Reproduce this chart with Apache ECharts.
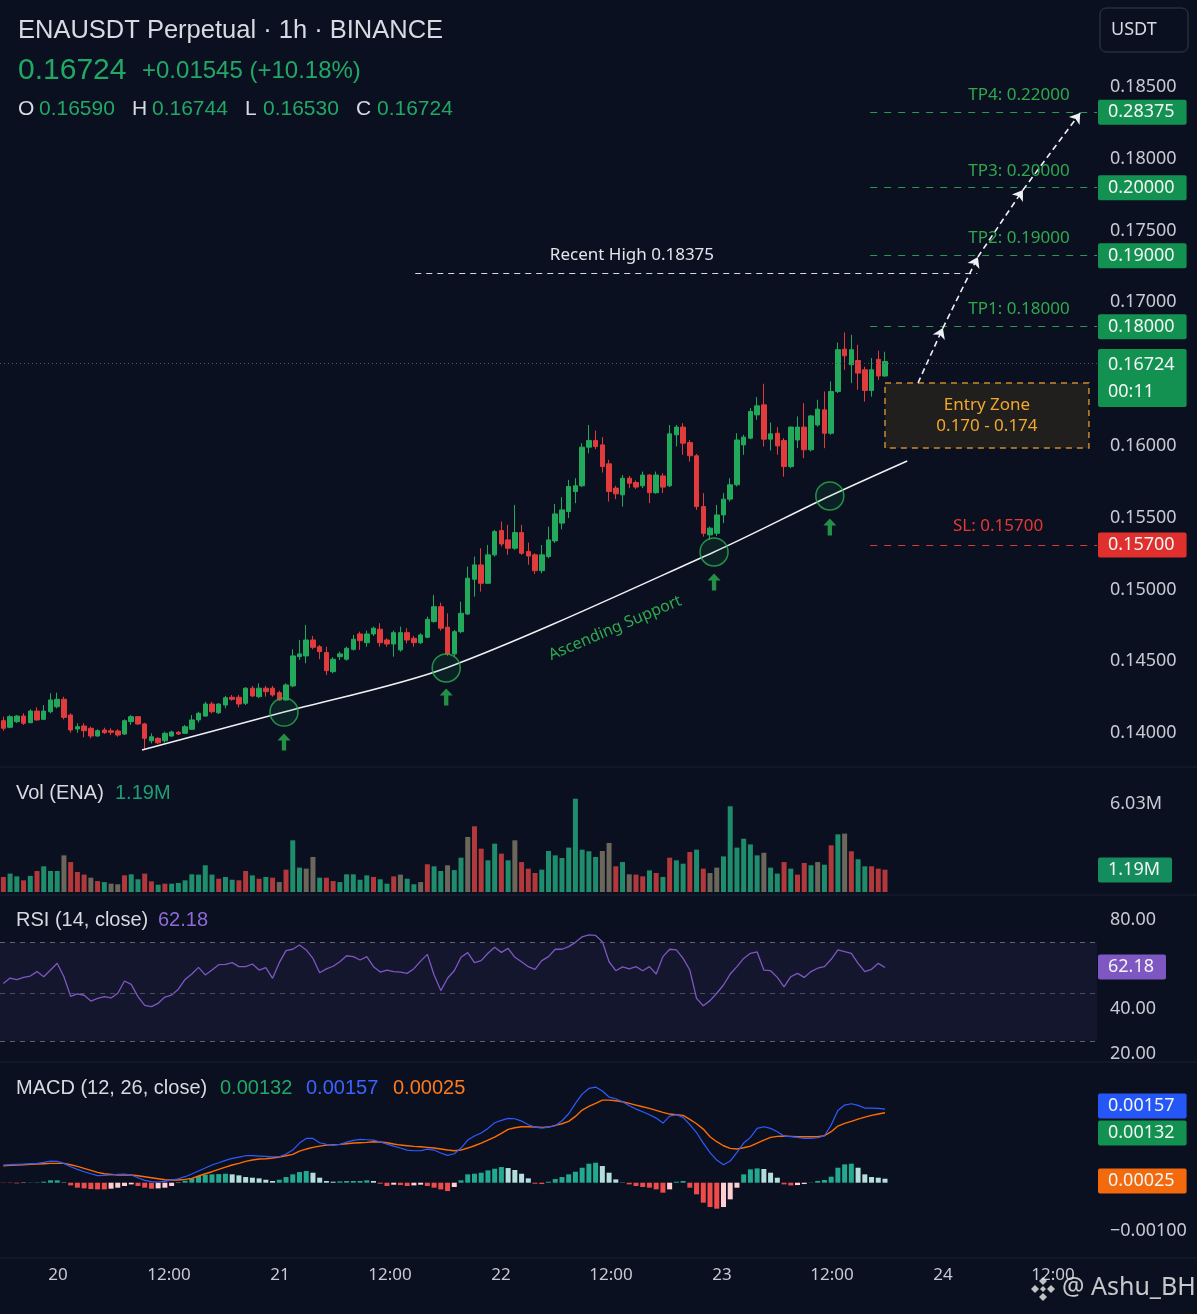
<!DOCTYPE html>
<html><head><meta charset="utf-8">
<script src="https://cdn.jsdelivr.net/npm/echarts@6/dist/echarts.min.js"></script>
<style>html,body{margin:0;padding:0;background:#0a1020;}#chart{width:1197px;height:1314px;}</style>
</head><body><div id="chart"></div>
<script>
// ---- candles: [open, high, low, close] ----
const ohlc = [
[0.14086,0.14114,0.14016,0.14033],[0.14040,0.14125,0.14033,0.14114],[0.14079,0.14125,0.14070,0.14118],[0.14118,0.14137,0.14056,0.14068],
[0.14072,0.14165,0.14068,0.14153],[0.14153,0.14179,0.14086,0.14091],[0.14095,0.14195,0.14091,0.14153],[0.14148,0.14277,0.14137,0.14230],
[0.14183,0.14281,0.14172,0.14235],[0.14235,0.14253,0.14095,0.14109],[0.14125,0.14137,0.14002,0.14021],[0.14028,0.14068,0.14002,0.14044],
[0.14049,0.14068,0.13970,0.14016],[0.14033,0.14044,0.13963,0.13979],[0.13979,0.14026,0.13974,0.14016],[0.14021,0.14037,0.13993,0.14002],
[0.14016,0.14033,0.13986,0.14005],[0.14014,0.14026,0.13974,0.13986],[0.13993,0.14095,0.13986,0.14086],[0.14079,0.14125,0.14056,0.14114],
[0.14114,0.14118,0.14056,0.14063],[0.14063,0.14072,0.13886,0.13963],[0.13946,0.13998,0.13928,0.13974],[0.13963,0.13970,0.13923,0.13932],
[0.13946,0.14009,0.13932,0.13998],[0.13979,0.14016,0.13974,0.14007],[0.14005,0.14014,0.13986,0.13993],[0.13998,0.14056,0.13993,0.14044],
[0.14026,0.14125,0.14021,0.14091],[0.14091,0.14148,0.14072,0.14137],[0.14118,0.14218,0.14114,0.14202],[0.14202,0.14218,0.14137,0.14148],
[0.14141,0.14207,0.14132,0.14202],[0.14195,0.14258,0.14172,0.14246],[0.14249,0.14265,0.14225,0.14235],[0.14249,0.14265,0.14179,0.14202],
[0.14207,0.14319,0.14195,0.14312],[0.14312,0.14328,0.14249,0.14258],[0.14253,0.14346,0.14242,0.14312],[0.14312,0.14328,0.14253,0.14288],
[0.14312,0.14328,0.14253,0.14265],[0.14281,0.14295,0.14225,0.14230],[0.14230,0.14346,0.14225,0.14335],[0.14328,0.14583,0.14319,0.14537],
[0.14532,0.14648,0.14509,0.14551],[0.14537,0.14753,0.14486,0.14648],[0.14648,0.14676,0.14583,0.14597],[0.14601,0.14613,0.14514,0.14567],
[0.14560,0.14601,0.14404,0.14434],[0.14427,0.14528,0.14416,0.14514],[0.14532,0.14567,0.14509,0.14551],[0.14514,0.14601,0.14504,0.14590],
[0.14583,0.14683,0.14574,0.14653],[0.14690,0.14706,0.14579,0.14643],[0.14629,0.14713,0.14601,0.14690],[0.14690,0.14741,0.14676,0.14730],
[0.14723,0.14765,0.14601,0.14629],[0.14648,0.14660,0.14601,0.14620],[0.14620,0.14713,0.14532,0.14699],[0.14579,0.14741,0.14567,0.14699],
[0.14699,0.14730,0.14625,0.14648],[0.14660,0.14676,0.14601,0.14629],[0.14629,0.14695,0.14620,0.14683],[0.14667,0.14811,0.14660,0.14792],
[0.14776,0.14962,0.14769,0.14880],[0.14880,0.14908,0.14713,0.14730],[0.14737,0.14834,0.14537,0.14551],[0.14551,0.14718,0.14532,0.14706],
[0.14706,0.14915,0.14695,0.14834],[0.14829,0.15159,0.14822,0.15078],[0.15071,0.15229,0.14950,0.15171],[0.15171,0.15287,0.14985,0.15043],
[0.15043,0.15310,0.15039,0.15241],[0.15241,0.15415,0.15229,0.15403],[0.15410,0.15473,0.15299,0.15317],[0.15345,0.15450,0.15241,0.15287],
[0.15287,0.15589,0.15276,0.15396],[0.15396,0.15450,0.15241,0.15252],[0.15264,0.15326,0.15171,0.15233],[0.15241,0.15252,0.15108,0.15131],
[0.15131,0.15310,0.15113,0.15241],[0.15229,0.15437,0.15217,0.15345],[0.15338,0.15596,0.15324,0.15526],[0.15462,0.15643,0.15419,0.15554],
[0.15543,0.15763,0.15497,0.15717],[0.15682,0.15775,0.15601,0.15722],[0.15722,0.16019,0.15713,0.15991],[0.15991,0.16146,0.15949,0.16037],
[0.16037,0.16107,0.15978,0.15996],[0.16007,0.16061,0.15814,0.15856],[0.15875,0.15903,0.15612,0.15682],[0.15706,0.15722,0.15629,0.15666],
[0.15659,0.15797,0.15577,0.15775],[0.15775,0.15791,0.15706,0.15740],[0.15745,0.15760,0.15700,0.15713],[0.15722,0.15821,0.15706,0.15797],
[0.15797,0.15804,0.15601,0.15674],[0.15674,0.15821,0.15666,0.15797],[0.15791,0.15810,0.15671,0.15713],[0.15722,0.16146,0.15713,0.16084],
[0.16077,0.16146,0.15996,0.16131],[0.16131,0.16158,0.15938,0.16019],[0.16023,0.16041,0.15891,0.15931],[0.15931,0.15944,0.15554,0.15577],
[0.15577,0.15671,0.15368,0.15391],[0.15380,0.15438,0.15345,0.15427],[0.15391,0.15589,0.15373,0.15519],[0.15519,0.15671,0.15462,0.15629],
[0.15629,0.15775,0.15612,0.15729],[0.15729,0.16088,0.15717,0.16041],[0.16007,0.16077,0.15938,0.16061],[0.16054,0.16263,0.16047,0.16240],
[0.16216,0.16340,0.16182,0.16279],[0.16286,0.16433,0.15996,0.16047],[0.16047,0.16163,0.15968,0.16084],[0.16088,0.16131,0.15938,0.16000],
[0.16037,0.16054,0.15786,0.15856],[0.15856,0.16135,0.15845,0.16131],[0.16041,0.16205,0.15984,0.16131],[0.16131,0.16298,0.15915,0.15973],
[0.15973,0.16216,0.15961,0.16209],[0.16146,0.16321,0.16135,0.16256],[0.16251,0.16379,0.15984,0.16088],[0.16088,0.16449,0.16077,0.16379],
[0.16379,0.16720,0.16368,0.16670],[0.16674,0.16790,0.16530,0.16628],[0.16565,0.16774,0.16437,0.16670],[0.16595,0.16704,0.16391,0.16507],
[0.16530,0.16552,0.16308,0.16386],[0.16386,0.16612,0.16343,0.16530],[0.16603,0.16663,0.16459,0.16487],[0.16487,0.16656,0.16482,0.16588]
];
// ---- volume (millions) and bar side: g = up, r = down, n = neutral ----
const volumes = [
1.03,1.26,1.07,0.80,1.10,1.44,1.76,1.44,1.44,2.51,2.05,1.37,1.19,0.98,0.75,0.68,0.57,0.53,1.14,1.21,
0.87,1.26,0.73,0.50,0.57,0.57,0.62,0.80,1.21,1.19,1.83,1.19,0.91,1.03,0.84,0.80,1.44,1.14,0.91,1.03,
0.98,0.68,1.53,3.54,1.67,1.60,2.40,0.98,0.98,0.75,0.68,1.21,1.21,0.84,1.14,1.03,0.87,0.57,1.07,1.19,
0.91,0.53,0.68,1.90,1.76,1.44,1.83,1.50,2.35,3.77,4.50,2.97,2.17,3.31,2.63,2.17,3.54,2.05,1.60,1.30,
1.53,2.81,2.51,2.33,3.04,6.39,2.90,2.79,2.40,2.81,3.36,1.76,2.05,1.21,1.19,1.07,1.48,1.30,1.03,2.35,
2.17,1.94,2.74,2.90,1.60,1.30,1.67,2.44,5.87,3.04,3.65,3.26,2.51,2.69,1.67,1.26,2.05,1.60,1.19,1.99,
1.83,2.05,1.87,3.20,3.95,4.00,2.79,2.24,1.76,1.76,1.60,1.53];
const volumeSide = "rggrgrgggnrrrnrgnnrggrrgrgggggggrggrrgrgrnrggnngrrgggggrggrnggnrggnggnrrggrgnrrrgggggggggnnrgnrrgrgrggrgrnnggggggnggrgrrgngrgnrggrrrrgrg";
// ---- RSI (14) ----
const rsi = [
51.6,54.0,53.3,54.3,54.9,56.9,54.6,57.6,60.6,54.6,45.8,46.9,46.3,43.7,44.9,45.7,45.1,47.2,52.7,51.2,
45.7,41.8,41.2,42.7,45.5,46.4,49.0,53.4,55.8,58.8,55.4,57.6,60.0,60.1,60.9,59.1,59.1,60.3,57.6,58.7,
53.9,60.9,66.3,66.9,68.8,66.6,62.8,56.4,58.1,59.3,61.3,64.0,63.6,62.1,63.6,59.1,56.7,57.6,56.9,56.7,
56.1,58.2,61.6,64.6,55.4,48.4,53.9,57.3,63.3,65.4,60.9,61.8,65.1,67.8,65.5,67.3,63.3,61.3,59.1,57.9,
61.8,63.6,66.9,66.9,68.1,70.0,72.5,73.3,73.1,70.3,61.3,57.3,59.0,58.1,59.1,57.3,59.1,55.8,63.6,66.9,
66.6,62.8,57.6,44.9,41.6,43.9,47.2,50.9,55.8,59.1,62.8,65.1,65.7,57.6,57.3,54.3,50.1,54.6,56.1,54.3,
56.9,58.4,59.1,62.4,66.6,65.8,65.1,60.6,56.9,57.9,60.6,58.7];
// ---- MACD (12, 26) ----
const macdLine = [
0.000368,0.000375,0.000382,0.000389,0.000396,0.000403,0.000423,0.000451,0.000444,0.000403,
0.000333,0.000278,0.000229,0.000187,0.000146,0.000153,0.000160,0.000174,0.000180,0.000160,
0.000104,0.000049,0.000021,0.000014,0.000028,0.000056,0.000083,0.000125,0.000180,0.000243,
0.000305,0.000368,0.000416,0.000465,0.000507,0.000534,0.000562,0.000562,0.000555,0.000548,
0.000541,0.000541,0.000597,0.000680,0.000826,0.000923,0.000923,0.000833,0.000798,0.000784,
0.000798,0.000847,0.000881,0.000902,0.000895,0.000888,0.000847,0.000805,0.000763,0.000722,
0.000680,0.000666,0.000666,0.000701,0.000680,0.000618,0.000569,0.000604,0.000722,0.000888,
0.000972,0.001034,0.001131,0.001249,0.001298,0.001339,0.001332,0.001284,0.001208,0.001159,
0.001138,0.001159,0.001187,0.001291,0.001437,0.001652,0.001846,0.001964,0.001992,0.001909,
0.001784,0.001749,0.001686,0.001603,0.001534,0.001478,0.001416,0.001346,0.001242,0.001388,
0.001416,0.001360,0.001208,0.001041,0.000826,0.000625,0.000472,0.000375,0.000451,0.000632,
0.000826,0.000944,0.001131,0.001166,0.001131,0.001062,0.000972,0.000958,0.000944,0.000923,
0.000923,0.000937,0.000979,0.001201,0.001506,0.001617,0.001645,0.001610,0.001555,0.001555,
0.001548,0.001534];
const signalLine = [
0.000354,0.000361,0.000368,0.000375,0.000382,0.000389,0.000396,0.000403,0.000403,0.000403,
0.000375,0.000340,0.000298,0.000257,0.000215,0.000187,0.000174,0.000160,0.000160,0.000160,
0.000146,0.000125,0.000104,0.000083,0.000062,0.000056,0.000056,0.000069,0.000090,0.000139,
0.000187,0.000229,0.000278,0.000326,0.000368,0.000403,0.000444,0.000472,0.000493,0.000500,
0.000514,0.000534,0.000562,0.000590,0.000659,0.000701,0.000736,0.000763,0.000784,0.000791,
0.000798,0.000812,0.000826,0.000833,0.000840,0.000854,0.000847,0.000833,0.000805,0.000784,
0.000770,0.000756,0.000750,0.000736,0.000722,0.000701,0.000680,0.000666,0.000680,0.000722,
0.000770,0.000826,0.000888,0.000951,0.001027,0.001110,0.001145,0.001166,0.001166,0.001159,
0.001152,0.001159,0.001194,0.001228,0.001277,0.001381,0.001513,0.001589,0.001652,0.001721,
0.001721,0.001707,0.001686,0.001652,0.001617,0.001582,0.001548,0.001506,0.001464,0.001430,
0.001416,0.001402,0.001319,0.001228,0.001117,0.000958,0.000854,0.000770,0.000715,0.000701,
0.000729,0.000763,0.000826,0.000888,0.000944,0.000965,0.000972,0.000965,0.000958,0.000958,
0.000958,0.000958,0.000979,0.001062,0.001180,0.001235,0.001277,0.001325,0.001367,0.001402,
0.001430,0.001457];
const macdHist = [
-0.000005,-0.000007,-0.000014,-0.000007,0.000005,0.000007,0.000021,0.000049,0.000049,0.000007,
-0.000056,-0.000104,-0.000118,-0.000132,-0.000139,-0.000139,-0.000125,-0.000104,-0.000069,-0.000035,
-0.000069,-0.000104,-0.000125,-0.000118,-0.000104,-0.000069,-0.000007,0.000042,0.000090,0.000139,
0.000167,0.000174,0.000180,0.000187,0.000174,0.000153,0.000118,0.000104,0.000090,0.000062,
0.000035,0.000062,0.000118,0.000174,0.000222,0.000243,0.000208,0.000104,0.000035,0.000021,
0.000028,0.000035,0.000035,0.000035,0.000049,0.000035,-0.000021,-0.000069,-0.000042,-0.000049,
-0.000069,-0.000056,-0.000042,-0.000069,-0.000104,-0.000139,-0.000174,-0.000090,0.000049,0.000174,
0.000187,0.000208,0.000257,0.000291,0.000326,0.000305,0.000264,0.000187,0.000090,-0.000021,
-0.000028,0.000021,0.000076,0.000118,0.000174,0.000229,0.000312,0.000396,0.000416,0.000347,
0.000208,0.000069,0.000005,-0.000035,-0.000069,-0.000090,-0.000104,-0.000139,-0.000208,-0.000139,
0.000021,0.000035,-0.000104,-0.000243,-0.000416,-0.000507,-0.000541,-0.000507,-0.000347,-0.000104,
0.000174,0.000278,0.000298,0.000285,0.000208,0.000104,-0.000035,-0.000056,-0.000049,-0.000028,
0.000005,0.000035,0.000056,0.000125,0.000312,0.000382,0.000396,0.000312,0.000174,0.000118,
0.000104,0.000083];
// ---- axis ticks ----
const timeTickPos = [8.12, 24.61, 41.1, 57.45, 73.94, 90.29, 106.78, 123.13, 139.62, 155.97];
const timeTickLabels = ['20','12:00','21','12:00','22','12:00','23','12:00','24','12:00'];
const priceTicks = [0.14, 0.145, 0.15, 0.155, 0.16, 0.17, 0.175, 0.18, 0.185];
const volumeTicks = [6.03];
const rsiTicks = [20, 40, 80];
const macdTicks = [-0.001];
// ---- annotations (in axis units) ----
const tpLevels = [0.18324, 0.17799, 0.17325, 0.16830];
const tpBadges = ['0.28375', '0.20000', '0.19000', '0.18000'];
const tpTexts = ['TP4: 0.22000', 'TP3: 0.20000', 'TP2: 0.19000', 'TP1: 0.18000'];
const tpTextLevels = [0.18444, 0.17917, 0.17446, 0.16954];
const slLevel = 0.15310;
const recentHigh = 0.17202;
const lastPriceLevel = 0.16575;
const lastPriceBadgeLevel = 0.16473;
const entryZone = [[131.0, 0.16438], [161.3, 0.15985]];
const supportLine = [[20.6,0.13882],[41.7,0.14146],[65.8,0.14453],[105.6,0.15261],[122.8,0.15651],[134.3,0.15895]];
const supportTouches = [[41.7,0.14146],[65.8,0.14453],[105.6,0.15261],[122.8,0.15651]];
const supportArrows = [[41.7,0.13937],[65.8,0.14251],[105.6,0.15052],[122.8,0.15435]];
const pathArrows = [[135.9,0.16438],[139.6,0.16821],[144.8,0.17316],[151.5,0.17783],[160.0,0.18319]];

const X_MIN = -0.5, X_MAX = 162.5;
const GREEN = '#22a95c', RED = '#e13b3b';
const FONT = 'Noto Sans';
const AX = '#c6cad2';

const chart = echarts.init(document.getElementById('chart'), null, {renderer: 'canvas'});

const grids = [
  {left: 0, right: 100, top: 0, height: 767},
  {left: 0, right: 100, top: 770, height: 122},
  {left: 0, right: 100, top: 900, height: 162},
  {left: 0, right: 100, top: 1062, height: 196}
];
const xAxes = grids.map((g, k) => ({
  type: 'value', gridIndex: k, min: X_MIN, max: X_MAX, show: k === 3,
  axisLine: {show: false}, axisTick: {show: false}, splitLine: {show: false},
  axisLabel: {
    show: k === 3, customValues: timeTickPos, color: AX, fontSize: 17, fontFamily: FONT, margin: 9,
    formatter: v => { const i = timeTickPos.findIndex(p => Math.abs(p - v) < 1e-6); return i >= 0 ? timeTickLabels[i] : ''; }
  }
}));
const yBase = (k, min, max, ticks, fmt) => ({
  type: 'value', gridIndex: k, position: 'right', min, max, scale: true,
  axisLine: {show: false}, axisTick: {show: false}, splitLine: {show: false},
  axisLabel: {customValues: ticks, color: AX, fontSize: 18, fontFamily: FONT, margin: 13, formatter: fmt}
});
const yAxes = [
  yBase(0, 0.137632, 0.19106, priceTicks, v => v.toFixed(5)),
  yBase(1, 0, 8.356, volumeTicks, v => v.toFixed(2) + 'M'),
  yBase(2, 16.41, 88.96, rsiTicks, v => v.toFixed(2)),
  yBase(3, -0.0015688, 0.0025146, macdTicks, v => (v < 0 ? '\u2212' : '') + Math.abs(v).toFixed(5))
];

const badge = (text, bg) => ({
  show: true, position: 'end', distance: 1, formatter: text, color: '#f3f4f6',
  backgroundColor: bg, padding: [4, 12, 3, 10], borderRadius: 2, fontSize: 18, fontFamily: FONT
});
const hidden = {color: 'rgba(0,0,0,0)', width: 0};

const candleData = ohlc.map((d, i) => [i, d[0], d[3], d[2], d[1]]);
const volColor = {g: '#1f8c6c', r: '#b2393b', n: '#6b675b'};
const histData = macdHist.map((v, i) => {
  const prev = i > 0 ? macdHist[i - 1] : v;
  let c;
  if (v >= 0) c = v >= prev ? '#22a98f' : '#b2dfdb';
  else c = v <= prev ? '#ef4b4b' : '#ffcdd2';
  return {value: [i, v], itemStyle: {color: c}};
});

const option = {
  backgroundColor: '#0a1020',
  animation: false,
  grid: grids,
  xAxis: xAxes,
  yAxis: yAxes,
  series: [
    {
      type: 'candlestick', xAxisIndex: 0, yAxisIndex: 0, data: candleData, barWidth: 5,
      itemStyle: {color: GREEN, color0: RED, borderColor: GREEN, borderColor0: RED, borderWidth: 1},
      markLine: {
        silent: true, symbol: ['none', 'none'], animation: false, precision: 8,
        data: [
          ...tpLevels.map((v, k) => [
            {coord: [128.8, v], lineStyle: {color: '#279a4b', type: [7, 7], width: 1}, label: badge(tpBadges[k], '#139150')},
            {coord: [X_MAX, v]}
          ]),
          [{coord: [128.8, slLevel], lineStyle: {color: '#d63a3a', type: [7, 7], width: 1}, label: badge('0.15700', '#e0302d')},
           {coord: [X_MAX, slLevel]}],
          [{coord: [61.2, recentHigh], lineStyle: {color: '#d6d9df', type: [6, 5], width: 1.2}, label: {show: false}},
           {coord: [144.7, recentHigh]}],
          [{coord: [X_MIN, lastPriceLevel], lineStyle: {color: '#4f5665', type: [1, 3], width: 1}, label: {show: false}},
           {coord: [X_MAX, lastPriceLevel]}],
          [{coord: [X_MIN, lastPriceBadgeLevel], lineStyle: hidden,
            label: Object.assign(badge('0.16724\n00:11', '#139150'), {lineHeight: 27, padding: [2, 12, 2, 10]})},
           {coord: [X_MAX, lastPriceBadgeLevel]}]
        ]
      },
      markArea: {
        silent: true,
        itemStyle: {color: 'rgba(36,33,28,0.88)', borderColor: '#c98a2b', borderWidth: 1.5, borderType: [6, 5]},
        label: {show: true, position: 'inside', formatter: 'Entry Zone\n0.170 - 0.174', color: '#f2a72e', fontSize: 17, lineHeight: 21, fontFamily: FONT},
        data: [[{coord: entryZone[0]}, {coord: entryZone[1]}]]
      },
      markPoint: {
        silent: true, symbol: 'circle', symbolSize: 1, itemStyle: {color: 'rgba(0,0,0,0)'}, animation: false,
        label: {show: true, position: 'inside', fontSize: 17, fontFamily: FONT},
        data: [
          ...tpTexts.map((t, k) => ({coord: [150.9, tpTextLevels[k]], label: {formatter: t, color: '#2fa84e'}})),
          {coord: [93.4, 0.17330], label: {formatter: 'Recent High 0.18375', color: '#e3e5ea'}},
          {coord: [147.8, 0.15442], label: {formatter: 'SL: 0.15700', color: '#e53935'}},
          {coord: [90.9, 0.14731], label: {formatter: 'Ascending Support', color: '#2fa84e', rotate: 23, fontSize: 16}}
        ]
      }
    },
    {
      type: 'line', xAxisIndex: 0, yAxisIndex: 0, data: supportLine, smooth: 0.3, symbol: 'none',
      lineStyle: {color: '#eef0f3', width: 1.5}, z: 3,
      markLine: {
        silent: true, symbol: ['none', 'arrow'], symbolSize: 10, animation: false, precision: 8,
        lineStyle: {color: '#eef0f3', type: [6, 4], width: 1.6},
        label: {show: false},
        data: pathArrows.slice(0, -1).map((p, k) => [{coord: p}, {coord: pathArrows[k + 1]}])
      }
    },
    {
      type: 'scatter', xAxisIndex: 0, yAxisIndex: 0, data: supportTouches, symbol: 'circle', symbolSize: 28, z: 4,
      itemStyle: {color: 'rgba(34,169,92,0.14)', borderColor: '#2bb04f', borderWidth: 1.5}
    },
    {
      type: 'scatter', xAxisIndex: 0, yAxisIndex: 0, data: supportArrows, z: 4,
      symbol: 'path://M6,0 L12,7 L8,7 L8,17 L4,17 L4,7 L0,7 Z', symbolSize: [13, 17],
      itemStyle: {color: '#2bb04f'}
    },
    {
      type: 'bar', xAxisIndex: 1, yAxisIndex: 1, barWidth: 5,
      data: volumes.map((v, i) => ({value: [i, v], itemStyle: {color: volColor[volumeSide[i]]}})),
      markLine: {silent: true, symbol: ['none', 'none'], precision: 8,
        data: [[{coord: [X_MIN, 1.507], lineStyle: hidden, label: badge('1.19M', '#148c5e')}, {coord: [X_MAX, 1.507]}]]}
    },
    {
      type: 'line', xAxisIndex: 2, yAxisIndex: 2, data: rsi.map((v, i) => [i, v]), symbol: 'none',
      lineStyle: {color: '#7e57c2', width: 1.3},
      markArea: {silent: true, itemStyle: {color: 'rgba(126,87,194,0.09)'}, data: [[{yAxis: 70}, {yAxis: 25.8}]]},
      markLine: {
        silent: true, symbol: ['none', 'none'], precision: 8,
        data: [
          {yAxis: 70, lineStyle: {color: '#5d6170', type: [5, 5], width: 1}, label: {show: false}},
          {yAxis: 47.3, lineStyle: {color: '#4a4e5c', type: [5, 5], width: 1}, label: {show: false}},
          {yAxis: 25.8, lineStyle: {color: '#5d6170', type: [5, 5], width: 1}, label: {show: false}},
          [{coord: [X_MIN, 58.95], lineStyle: hidden, label: badge('62.18', '#7e57c2')}, {coord: [X_MAX, 58.95]}]
        ]
      }
    },
    {type: 'bar', xAxisIndex: 3, yAxisIndex: 3, barWidth: 5, data: histData},
    {
      type: 'line', xAxisIndex: 3, yAxisIndex: 3, data: signalLine.map((v, i) => [i, v]), symbol: 'none',
      lineStyle: {color: '#ff6d00', width: 1.4}
    },
    {
      type: 'line', xAxisIndex: 3, yAxisIndex: 3, data: macdLine.map((v, i) => [i, v]), symbol: 'none',
      lineStyle: {color: '#2f5bff', width: 1.2},
      markLine: {
        silent: true, symbol: ['none', 'none'], precision: 10,
        data: [
          [{coord: [X_MIN, 0.001598], lineStyle: hidden, label: badge('0.00157', '#2457f5')}, {coord: [X_MAX, 0.001598]}],
          [{coord: [X_MIN, 0.001035], lineStyle: hidden, label: badge('0.00132', '#139150')}, {coord: [X_MAX, 0.001035]}],
          [{coord: [X_MIN, 0.0000354], lineStyle: hidden, label: badge('0.00025', '#f26a0c')}, {coord: [X_MAX, 0.0000354]}]
        ]
      }
    }
  ],
  graphic: []
};

const T = (x, y, text, fill, size, family, weight) => ({
  type: 'text', x, y, silent: true, z: 100,
  style: {text, fill, fontSize: size, fontFamily: family || 'Liberation Sans', fontWeight: weight || 'normal', verticalAlign: 'middle'}
});
const L = (y) => ({type: 'line', silent: true, z: 1, shape: {x1: 0, y1: y, x2: 1197, y2: y}, style: {stroke: '#1b2130', lineWidth: 1}});
const dia = (cx, cy, r) => ({type: 'polygon', silent: true, z: 100, shape: {points: [[cx, cy - r], [cx + r, cy], [cx, cy + r], [cx - r, cy]]}, style: {fill: 'rgba(225,225,225,0.85)'}});
const W = '#d7dae1', TG = '#22a865';
option.graphic = [
  L(767), L(895), L(1062), L(1258),
  T(18, 31, 'ENAUSDT Perpetual \u00b7 1h \u00b7 BINANCE', W, 25.5),
  T(18, 71, '0.16724', TG, 30),
  T(142, 71, '+0.01545 (+10.18%)', TG, 24),
  T(18, 109, 'O', W, 21), T(39, 109, '0.16590', TG, 21),
  T(132, 109, 'H', W, 21), T(152, 109, '0.16744', TG, 21),
  T(245, 109, 'L', W, 21), T(263, 109, '0.16530', TG, 21),
  T(356, 109, 'C', W, 21), T(377, 109, '0.16724', TG, 21),
  T(16, 793, 'Vol (ENA)', W, 20), T(115, 793, '1.19M', '#1f9e74', 20),
  T(16, 920, 'RSI (14, close)', W, 20), T(158, 920, '62.18', '#8f6ad6', 20),
  T(16, 1088, 'MACD (12, 26, close)', W, 20), T(220, 1088, '0.00132', '#22a865', 20),
  T(306, 1088, '0.00157', '#3b63ff', 20), T(393, 1088, '0.00025', '#ff7a1a', 20),
  {type: 'rect', silent: true, z: 100, shape: {x: 1100, y: 8, width: 88, height: 44, r: 6}, style: {fill: 'rgba(0,0,0,0)', stroke: '#343a47', lineWidth: 1}},
  T(1111, 30, 'USDT', W, 18, FONT),
  dia(1043, 1281, 4), dia(1035, 1289, 4), dia(1051, 1289, 4), dia(1043, 1297, 4), dia(1043, 1289, 3),
  T(1062, 1288, '@ Ashu_BH', 'rgba(225,225,225,0.88)', 25, FONT)
];

chart.setOption(option);
</script>
</body></html>
